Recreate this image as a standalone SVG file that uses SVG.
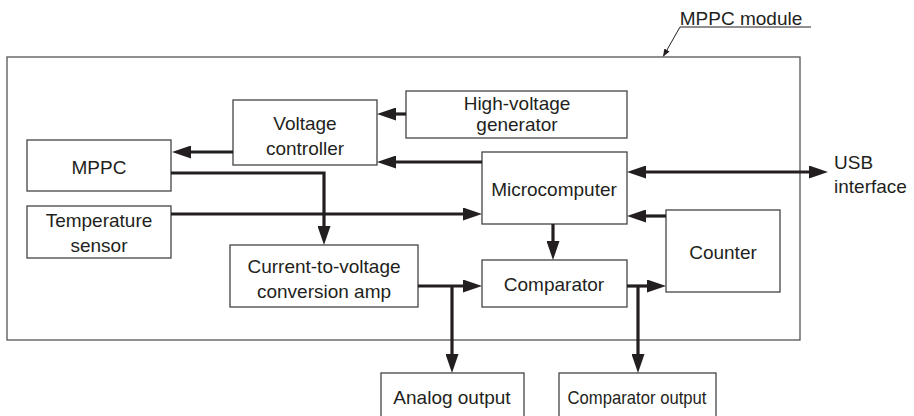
<svg xmlns="http://www.w3.org/2000/svg" width="914" height="416" viewBox="0 0 914 416">
<style>
.box{fill:#fff;stroke:#444;stroke-width:1.3}
.outer{fill:none;stroke:#555;stroke-width:1.3}
.t{font-family:"Liberation Sans",Arial,sans-serif;font-size:19px;fill:#231f20;text-anchor:middle}
.c{fill:none;stroke:#231f20;stroke-width:3.2}
.lead{fill:none;stroke:#231f20;stroke-width:1}
</style>
<defs>
<marker id="ah" markerUnits="userSpaceOnUse" markerWidth="20" markerHeight="13" refX="9" refY="6.5" orient="auto-start-reverse">
<path d="M0,0 L19,6.5 L0,13 z" fill="#231f20"/>
</marker>
<marker id="sa" markerUnits="userSpaceOnUse" markerWidth="8" markerHeight="6" refX="7" refY="3" orient="auto">
<path d="M0,0 L8,3 L0,6 z" fill="#231f20"/>
</marker>
</defs>
<g id="module">
<rect class="outer" x="7" y="57" width="793" height="283"/>
<text class="t" x="741" y="25">MPPC module</text>
<path class="lead" d="M811,27 H680 L663.5,56" marker-end="url(#sa)"/>
</g>
<g id="voltage-controller"><rect class="box" x="233" y="100" width="144" height="65"/><text class="t" x="305" y="130">Voltage</text><text class="t" x="305" y="155">controller</text></g>
<g id="hv-generator"><rect class="box" x="406" y="91" width="221" height="47"/><text class="t" x="517" y="110">High-voltage</text><text class="t" x="517" y="131">generator</text></g>
<g id="mppc"><rect class="box" x="27" y="140" width="144" height="51"/><text class="t" x="99" y="174">MPPC</text></g>
<g id="microcomputer"><rect class="box" x="482" y="152" width="145" height="72"/><text class="t" x="554" y="196">Microcomputer</text></g>
<g id="temperature-sensor"><rect class="box" x="27" y="206" width="144" height="52"/><text class="t" x="99" y="227">Temperature</text><text class="t" x="99" y="252">sensor</text></g>
<g id="cv-amp"><rect class="box" x="230" y="245" width="188" height="62"/><text class="t" x="324" y="273">Current-to-voltage</text><text class="t" x="324" y="298">conversion amp</text></g>
<g id="comparator"><rect class="box" x="482" y="260" width="145" height="47"/><text class="t" x="554" y="291">Comparator</text></g>
<g id="counter"><rect class="box" x="666" y="210" width="114" height="82"/><text class="t" x="723" y="259">Counter</text></g>
<g id="analog-output"><rect class="box" x="381" y="373" width="143" height="50"/><text class="t" x="452" y="404">Analog output</text></g>
<g id="comparator-output"><rect class="box" x="559" y="373" width="157" height="50"/><text class="t" x="637" y="404" textLength="139" lengthAdjust="spacingAndGlyphs">Comparator output</text></g>
<g id="usb"><text class="t" x="834" y="169" style="text-anchor:start">USB</text><text class="t" x="834" y="193" style="text-anchor:start">interface</text></g>
<g id="connectors">
<path class="c" d="M406,114 H387" marker-end="url(#ah)"/>
<path class="c" d="M233,152 H182" marker-end="url(#ah)"/>
<path class="c" d="M482,162 H387" marker-end="url(#ah)"/>
<path class="c" d="M171,173 H324 V235" marker-end="url(#ah)"/>
<path class="c" d="M171,214 H472" marker-end="url(#ah)"/>
<path class="c" d="M637,172 H818" marker-start="url(#ah)" marker-end="url(#ah)"/>
<path class="c" d="M553,224 V250" marker-end="url(#ah)"/>
<path class="c" d="M666,216 H637" marker-end="url(#ah)"/>
<path class="c" d="M418,286 H472" marker-end="url(#ah)"/>
<path class="c" d="M452,286 V363" marker-end="url(#ah)"/>
<path class="c" d="M627,286 H656" marker-end="url(#ah)"/>
<path class="c" d="M638,286 V363" marker-end="url(#ah)"/>
</g>
</svg>
